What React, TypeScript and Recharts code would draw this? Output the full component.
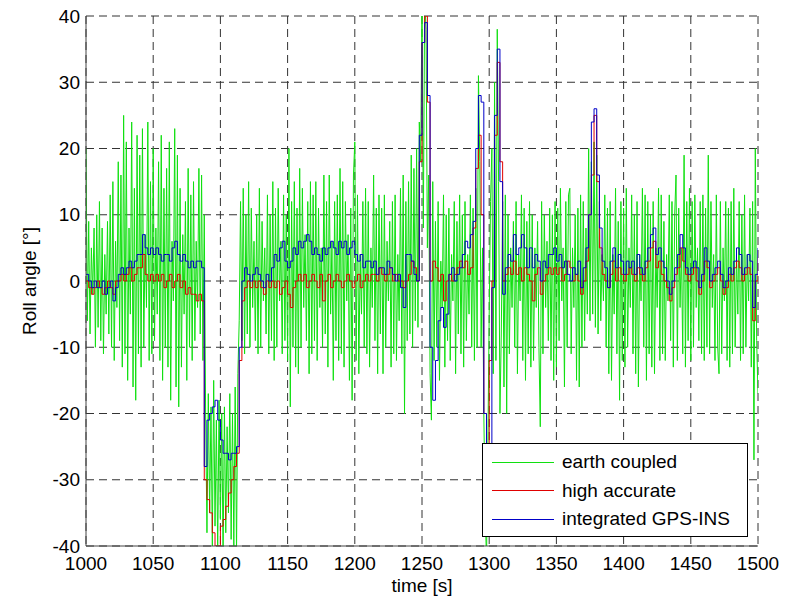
import React from 'react';
import { LineChart, Line, XAxis, YAxis, CartesianGrid, Legend } from 'recharts';

// sampling of the recorded signals
const T0 = 1000;
const GREEN_DT = 1;
const ACC_DT = 2;

const X_TICKS = [1000, 1050, 1100, 1150, 1200, 1250, 1300, 1350, 1400, 1450, 1500];
const Y_TICKS = [-40, -30, -20, -10, 0, 10, 20, 30, 40];

// earth coupled, 1 s steps from 1000 s
const EARTH_COUPLED = [
  20, -6, 9, -8, 5, -2, 8, -10, 10, -7,
  12, -9, 8, -11, 4, -5, 9, -8, 13, -10,
  15, -12, 6, -4, 18, -9, 16, -13, 25, -11,
  21, -15, 8, -5, 24, -16, 14, -18, 22, -11,
  19, -13, 23, -10, 7, -4, 24, -12, 15, -11,
  20, -9, 8, -5, 18, -12, 22, -15, 14, -10,
  17, -13, 21, -18, 6, -3, 23, -16, 19, -19,
  14, -13, 7, -5, 12, -15, 17, -10, 13, -12,
  15, -9, 6, -4, 17, -8, 16, -12, 10, -20,
  -38, -17, -35, -19, -40, -15, -37, -21, -41, -18,
  -36, -20, -42, -19, -38, -22, -35, -17, -39, -20,
  -40, -16, -41, -14, -6, 12, -9, 14, -11, 10,
  -8, 15, -10, 11, -4, 6, -9, 10, -11, 14,
  -10, 9, -3, 5, -8, 13, -11, 10, -9, 15,
  -12, 11, -10, 14, -3, 6, -11, 13, -9, 10,
  -12, 20, -19, 12, -10, 15, -13, 11, -14, 17,
  -10, 14, -4, 7, -9, 12, -14, 15, -11, 13,
  -9, 15, -12, 11, -4, 5, -10, 16, -8, 12,
  -13, 16, -5, 6, -15, 12, -9, 13, -12, 17,
  -11, 15, -13, 12, -3, 7, -15, 11, -18, 16,
  21, -12, 13, -14, 4, -5, 12, -10, 14, -11,
  12, -13, 5, -4, 16, -9, 11, -14, 13, -8,
  11, -14, 13, -10, 6, -3, 9, -13, 12, -11,
  13, -12, 4, -6, 14, -11, 16, -20, 12, -9,
  15, -8, 19, -10, 17, -6, 20, -7, 24, 18,
  42, 8, 43, 38, 5, 16, -14, -21, 15, -12,
  9, -10, 12, -15, 3, -4, 13, -13, 10, -9,
  11, -12, 4, -3, 12, -14, 9, -8, 13, -11,
  10, -13, 12, -9, 4, -5, 13, -10, 11, -12,
  14, -10, 31, 18, -10, 5, -20, -35, -42, -25,
  -5, 12, 20, -14, 30, -12, 38, 15, -20, -8,
  12, -16, 13, -20, 10, -11, 5, -4, 9, -10,
  12, -14, 4, -3, 13, -12, 11, -15, 9, -11,
  12, -13, 10, -12, 5, -4, 9, -10, -22, 12,
  -11, 10, -4, 6, -9, 11, -12, 10, -15, 12,
  -13, 11, -9, 14, -3, 5, -16, 12, -10, 13,
  14, -11, 5, -4, 10, -15, 11, -16, 13, -10,
  12, -9, 8, -5, 20, -6, 18, -5, 21, -7,
  19, -8, 12, -6, 4, -3, 13, -10, 11, -14,
  12, -15, 4, -5, 14, -11, 9, -18, 12, -12,
  11, -13, 14, -10, 5, -4, 13, -11, 10, -14,
  12, -16, 4, -3, 14, -10, 13, -15, 12, -11,
  10, -13, 12, -14, 5, -4, 14, -12, 13, -11,
  9, -12, 4, -3, 13, -9, 12, -13, 10, 16,
  -12, 11, -4, 5, -11, 19, -13, 12, -9, 14,
  -12, 12, -10, 13, -4, 5, -9, 12, -11, 13,
  -12, 11, -10, 19, -11, 12, -4, 4, -12, 13,
  -10, -14, 12, -11, 5, -3, 12, -12, 11, -13,
  12, -11, 14, -10, 4, -5, 12, -12, 10, -11,
  13, -10, 4, -3, 11, -13, 12, -27, 20, -9,
  -17,
];

// high accurate, 2 s steps from 1000 s
const HIGH_ACCURATE = [
  0, -1, -2, -1, 0,
  -1, -2, -1, 0, -1,
  -2, 0, 0, 1, 0,
  1, 2, 0, 1, 2,
  2, 4, 1, 0, 1,
  0, 1, 0, 1, -1,
  0, 1, -1, 0, 1,
  -1, 0, -2, -1, -2,
  -2, -3, -2, -3, -30,
  -33, -35, -38, -40, -40,
  -37, -36, -34, -32, -30,
  -28, -26, -12, -3, -1,
  0, -1, 0, -1, 0,
  -1, -2, 0, -1, 0,
  -1, 0, -2, -1, 0,
  -2, -4, -1, 0, 1,
  0, 1, -1, 0, 1,
  0, -1, 1, -3, 0,
  1, -1, 0, 1, 0,
  -1, 0, 1, 0, -1,
  0, 1, -1, 0, 1,
  0, 1, 1, 0, 2,
  1, 0, 1, 2, 0,
  1, 0, 0, -1, 0,
  1, 3, 2, 0, 18,
  36, 40, 27, 0, 3,
  2, 0, 1, -3, 0,
  1, 0, 1, 2, 3,
  2, 3, 1, 2, 8,
  17, 22, 10, -20, -30,
  -12, 0, 22, 33, 18,
  0, 1, 2, 1, 3,
  1, 2, 0, 2, 1,
  0, -3, 1, 2, -2,
  0, 1, 2, 1, 2,
  1, 2, 0, 1, 3,
  2, 0, 1, 0, -2,
  0, 3, 10, 16, 25,
  15, 5, 1, 0, -1,
  1, 3, 0, 2, 1,
  0, 1, 2, 1, 0,
  2, 1, 0, 2, 3,
  5, 6, 2, 3, 1,
  0, -1, -3, -1, 1,
  2, 5, 3, 1, 0,
  1, 2, 0, -2, 0,
  3, 2, -1, 0, 1,
  2, 0, -2, -1, 1,
  0, 2, 3, 2, 0,
  1, 2, 1, -6, 0,
  3.5,
];

// integrated GPS-INS, 2 s steps from 1000 s
const GPS_INS = [
  1, 0, -1, 0, -1,
  -1, 0, -2, -1, 0,
  -3, -1, 1, 2, 1,
  2, 3, 2, 3, 4,
  4, 7, 5, 4, 5,
  4, 5, 4, 3, 4,
  4, 3, 5, 6, 4,
  3, 4, 3, 2, 3,
  2, 3, 3, 2, -28,
  -21, -20, -19, -18, -21,
  -24, -26, -26, -27, -26,
  -26, -25, -10, 0, 2,
  1, 0, 1, 2, 1,
  0, -1, 1, 0, 2,
  4, 3, 5, 6, 3,
  2, 3, 5, 4, 6,
  5, 6, 7, 6, 4,
  5, 4, 3, 5, 4,
  5, 6, 5, 4, 6,
  5, 6, 4, 5, 6,
  4, 3, 4, 2, 3,
  3, 2, 3, 1, 2,
  2, 1, 3, 2, 1,
  0, 1, -1, -4, 4,
  4, 3, 1, 0, 22,
  36, 39, 28, -10, -18,
  -12, -6, -4, -7, -5,
  1, 2, 0, 1, 2,
  4, 6, 5, 7, 9,
  20, 28, 27, -20, -26,
  -25, -1, 25, 35, 15,
  -2, 2, 4, 3, 7,
  4, 5, 7, 5, 2,
  5, 2, 4, 3, 0,
  3, 2, 4, 4, 5,
  3, 4, 2, 3, 1,
  0, 2, 1, 3, -1,
  2, 5, 10, 24, 26,
  16, 8, 3, 2, -1,
  3, 5, 2, 4, 3,
  1, 3, 2, 3, 1,
  4, 2, 1, 3, 5,
  7, 8, 4, 5, 3,
  2, 0, -2, 0, 2,
  4, 7, 5, 2, 1,
  2, 3, 2, -1, 1,
  5, 3, 0, 1, 2,
  3, 1, -1, 0, 2,
  1, 3, 5, 4, 1,
  2, 4, 3, -4, 1,
  5,
];

const greenData = EARTH_COUPLED.map((v, i) => ({ t: T0 + i * GREEN_DT, v }));
const accData = HIGH_ACCURATE.map((v, i) => ({ t: T0 + i * ACC_DT, red: v, blue: GPS_INS[i] }));

const LegendBox = (props: any) => {
  const payload = props.payload || [];
  return (
    <div style={{ position: 'relative', boxSizing: 'border-box', width: 266, height: 94, border: '1px solid #000', background: '#fff' }}>
      {payload.map((p: any, i: number) => (
        <div key={i} style={{ position: 'absolute', left: 9, top: 6 + i * 28.5, height: 24, display: 'flex', alignItems: 'center' }}>
          <div style={{ width: 62, height: 1, background: p.color }} />
          <span style={{ marginLeft: 8, fontSize: 19, color: '#000', whiteSpace: 'nowrap' }}>{p.value}</span>
        </div>
      ))}
    </div>
  );
};

const App: React.FC = () => {
  return (
    <div style={{ position: 'absolute', left: 0, top: 0, background: '#fff', fontFamily: '"Liberation Sans", Arial, sans-serif' }}>
      <LineChart width={787} height={602} margin={{ top: 16, right: 29, bottom: 0, left: 0 }}>
        <CartesianGrid stroke="#333" strokeDasharray="8 5" />
        <XAxis dataKey="t" type="number" domain={[1000, 1500]} ticks={X_TICKS} allowDataOverflow
          height={56} stroke="#444" tickLine={false} tickSize={6} tickMargin={5}
          tick={{ fill: '#000', fontSize: 19 }}
          label={{ value: 'time [s]', position: 'insideBottom', offset: 10, fill: '#000', fontSize: 19 }} />
        <XAxis xAxisId="top" orientation="top" type="number" domain={[1000, 1500]} height={0} tick={false} tickLine={false} stroke="#444" />
        <YAxis type="number" domain={[-40, 40]} ticks={Y_TICKS} allowDataOverflow
          width={86} stroke="#444" tickLine={false} tickSize={4} tickMargin={2}
          tick={{ fill: '#000', fontSize: 19 }} />
        <YAxis yAxisId="right" orientation="right" type="number" domain={[-40, 40]} width={0} tick={false} tickLine={false} stroke="#444" />
        <Legend layout="vertical" align="center" verticalAlign="middle"
          wrapperStyle={{ left: 482, top: 443, width: 266, height: 94 }}
          content={(p: any) => <LegendBox {...p} />} />
        <Line data={greenData} dataKey="v" name="earth coupled" type="linear" stroke="#10e010" strokeWidth={1} dot={false} isAnimationActive={false} />
        <Line data={accData} dataKey="red" name="high accurate" type="stepAfter" stroke="#e00000" strokeWidth={1} dot={false} isAnimationActive={false} />
        <Line data={accData} dataKey="blue" name="integrated GPS-INS" type="stepAfter" stroke="#0000c8" strokeWidth={1} dot={false} isAnimationActive={false} />
        <text x={29} y={281} transform="rotate(-90 29 281)" textAnchor="middle" dominantBaseline="central" fontSize={19} fill="#000">Roll angle [°]</text>
      </LineChart>
    </div>
  );
};

export default App;
